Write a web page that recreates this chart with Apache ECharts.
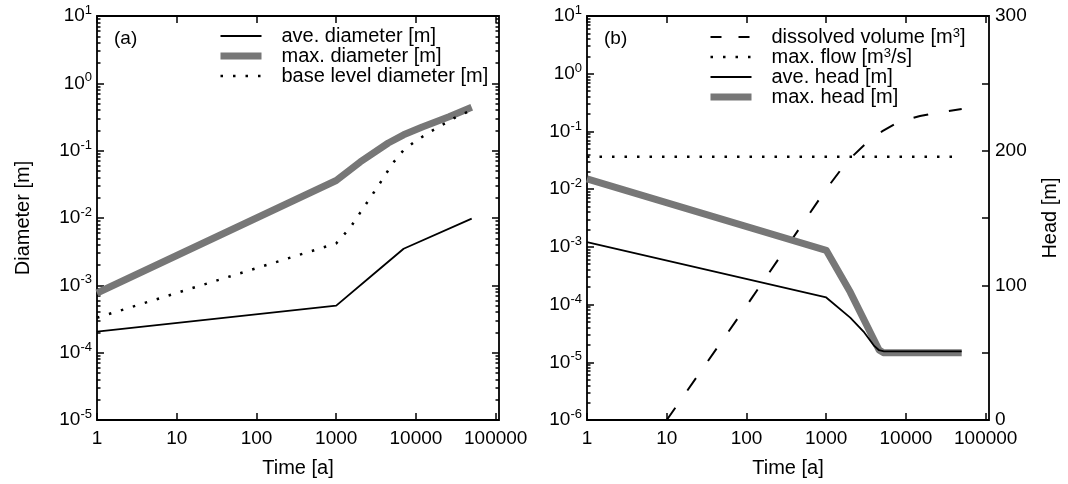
<!DOCTYPE html>
<html><head><meta charset="utf-8">
<script src="https://cdn.jsdelivr.net/npm/echarts@6/dist/echarts.min.js"></script>
<style>html,body{margin:0;padding:0;background:#fff}#c{width:1068px;height:484px}</style>
</head><body><div id="c"></div>
<script>
// ---------- data ----------
// panel (a)
const timeAveDiameter = [1, 1000, 3000, 7000, 50000];
const aveDiameter = [2.05e-4, 5.0e-4, 1.5e-3, 3.5e-3, 9.8e-3];
const timeMaxDiameter = [1, 1000, 2000, 4500, 7000, 12000, 26000, 50000];
const maxDiameter = [7.7e-4, 0.036, 0.068, 0.13, 0.172, 0.225, 0.32, 0.44];
const timeBaseDiameter = [1, 1000, 1500, 2000, 3000, 4000, 5000, 7000, 10000, 15000, 20000, 30000, 50000];
const baseDiameter = [3.3e-4, 4.2e-3, 7.2e-3, 0.012, 0.0245, 0.041, 0.063, 0.102, 0.14, 0.19, 0.23, 0.305, 0.40];
// panel (b)
const timeVolume = [10, 100, 1000, 1500, 2000, 3000, 5000, 8000, 15000, 25000, 50000];
const dissolvedVolume = [1e-6, 9.5e-5, 1.0e-2, 0.021, 0.034, 0.058, 0.10, 0.145, 0.185, 0.212, 0.245];
const timeFlow = [1, 50000];
const maxFlow = [0.0365, 0.0365];
const timeAveHead = [1, 1000, 2000, 3000, 4000, 4600, 5300, 50000];
const aveHead = [132, 91, 76, 65, 55, 51.8, 51, 51];
const timeMaxHead = [1, 1000, 2000, 4600, 5200, 50000];
const maxHead = [179, 126, 95, 52, 50, 50];

// tick labels
const timeTicks = [1, 10, 100, 1000, 10000, 100000];
const diameterDecades = [-5, -4, -3, -2, -1, 0, 1];
const volumeDecades = [-6, -5, -4, -3, -2, -1, 0, 1];
const headTicks = [0, 100, 200, 300];

const names = {
  ave: 'ave. diameter [m]', max: 'max. diameter [m]', base: 'base level diameter [m]',
  vol: 'dissolved volume [m3]', flow: 'max. flow [m3/s]', aveH: 'ave. head [m]', maxH: 'max. head [m]'
};

// ---------- helpers ----------
const FONT = '"Liberation Sans", Arial, Helvetica, sans-serif';
const pairs = (xs, ys) => xs.map((x, i) => [x, ys[i]]);
const decadesToValues = d => d.map(e => Math.pow(10, e));
const minorValues = d => {
  const out = [];
  for (let i = 0; i < d.length - 1; i++) for (let k = 2; k <= 9; k++) out.push(k * Math.pow(10, d[i]));
  return out;
};
const supLabel = v => '{b|10}{e|' + Math.round(Math.log10(v)) + '}';
const supRich = {
  b: { fontSize: 19, lineHeight: 24, fontFamily: FONT, color: '#000' },
  e: { fontSize: 13, lineHeight: 10, verticalAlign: 'top', fontFamily: FONT, color: '#000' }
};
const tickStyle = { color: '#000', width: 1.5 };

function xAxes(grid) {
  return [
    { type: 'log', logBase: 10, gridIndex: grid, position: 'bottom', min: 1, max: 110000,
      axisLine: { show: false }, splitLine: { show: false },
      axisTick: { show: true, inside: true, length: 7, lineStyle: tickStyle, customValues: timeTicks },
      axisLabel: { customValues: timeTicks, fontSize: 19, fontFamily: FONT, color: '#000', margin: 9,
        formatter: v => String(Math.round(v)) },
      name: 'Time [a]', nameLocation: 'middle', nameGap: 38,
      nameTextStyle: { fontSize: 20, fontFamily: FONT, color: '#000' } },
    { type: 'log', logBase: 10, gridIndex: grid, position: 'top', min: 1, max: 110000,
      axisLine: { show: false }, splitLine: { show: false },
      axisTick: { show: true, inside: true, length: 7, lineStyle: tickStyle, customValues: timeTicks },
      axisLabel: { show: false } }
  ];
}
function logY(grid, pos, decades, withLabels, minor, extra) {
  const ax = {
    type: 'log', logBase: 10, gridIndex: grid, position: pos,
    min: Math.pow(10, decades[0]), max: Math.pow(10, decades[decades.length - 1]),
    axisLine: { show: false }, splitLine: { show: false },
    axisTick: { show: true, inside: true, length: minor ? 3.5 : 7, lineStyle: tickStyle,
      customValues: minor ? minorValues(decades) : decadesToValues(decades) },
    axisLabel: withLabels ? { customValues: decadesToValues(decades), formatter: supLabel, rich: supRich, margin: 5 } : { show: false }
  };
  return Object.assign(ax, extra || {});
}

const chart = echarts.init(document.getElementById('c'), null, { renderer: 'canvas' });
const legendText = name => name.replace(/m3/, 'm{s|3}');
const legendRich = { s: { fontSize: 13, lineHeight: 8, verticalAlign: 'top', fontFamily: FONT, color: '#000' } };
const hiddenSymbol = { color: 'rgba(0,0,0,0)', borderWidth: 0, opacity: 0 };

chart.setOption({
  animation: false,
  backgroundColor: '#fff',
  textStyle: { fontFamily: FONT, color: '#000' },
  title: [
    { text: '(a)', left: 114, top: 29, padding: 0, textStyle: { fontSize: 19, fontWeight: 'normal', color: '#000', fontFamily: FONT } },
    { text: '(b)', left: 604, top: 29, padding: 0, textStyle: { fontSize: 19, fontWeight: 'normal', color: '#000', fontFamily: FONT } }
  ],
  grid: [
    { left: 97, top: 16, width: 402, height: 404, show: true, borderColor: '#000', borderWidth: 1.8, outerBoundsMode: 'none' },
    { left: 587, top: 16, width: 402, height: 404, show: true, borderColor: '#000', borderWidth: 1.8, outerBoundsMode: 'none' }
  ],
  xAxis: [...xAxes(0), ...xAxes(1)],
  yAxis: [
    logY(0, 'left', diameterDecades, true, false, { name: 'Diameter [m]', nameLocation: 'middle', nameGap: 64, nameRotate: 90,
      nameTextStyle: { fontSize: 20, fontFamily: FONT, color: '#000' } }),
    logY(0, 'left', diameterDecades, false, true),
    logY(0, 'right', diameterDecades, false, false),
    logY(0, 'right', diameterDecades, false, true),
    logY(1, 'left', volumeDecades, true, false),
    logY(1, 'left', volumeDecades, false, true),
    { type: 'value', gridIndex: 1, position: 'right', min: 0, max: 300, interval: 50,
      axisLine: { show: false }, splitLine: { show: false },
      axisTick: { show: true, inside: true, length: 7, lineStyle: tickStyle },
      axisLabel: { fontSize: 19, fontFamily: FONT, color: '#000', margin: 6,
        formatter: v => (headTicks.indexOf(v) >= 0 ? String(v) : '') },
      name: 'Head [m]', nameLocation: 'middle', nameGap: 51, nameRotate: 90,
      nameTextStyle: { fontSize: 20, fontFamily: FONT, color: '#000' } }
  ],
  legend: [
    { orient: 'vertical', left: 217, top: 26, padding: 0, itemWidth: 41, itemHeight: 14, itemGap: 0,
      selectedMode: false, lineStyle: { width: 'inherit', opacity: 1 }, itemStyle: hiddenSymbol,
      textStyle: { fontSize: 20, lineHeight: 20, fontFamily: FONT, color: '#000', padding: [0, 0, 0, 15] },
      data: [names.ave, names.max, names.base] },
    { orient: 'vertical', left: 707, top: 27, padding: 0, itemWidth: 41, itemHeight: 14, itemGap: 0,
      selectedMode: false, lineStyle: { width: 'inherit', opacity: 1 }, itemStyle: hiddenSymbol,
      formatter: legendText,
      textStyle: { fontSize: 20, lineHeight: 20, fontFamily: FONT, color: '#000', padding: [0, 0, 0, 15], rich: legendRich },
      data: [{ name: names.vol, lineStyle: { type: [11, 17] } }, names.flow, names.aveH, names.maxH] }
  ],
  series: [
    { type: 'line', name: names.ave, xAxisIndex: 0, yAxisIndex: 0, data: pairs(timeAveDiameter, aveDiameter),
      symbol: 'none', itemStyle: { color: '#000' }, lineStyle: { color: '#000', width: 1.8 } },
    { type: 'line', name: names.max, xAxisIndex: 0, yAxisIndex: 0, data: pairs(timeMaxDiameter, maxDiameter),
      symbol: 'none', itemStyle: { color: '#777' }, lineStyle: { color: '#777', width: 7, cap: 'butt', join: 'round' } },
    { type: 'line', name: names.base, xAxisIndex: 0, yAxisIndex: 0, data: pairs(timeBaseDiameter, baseDiameter),
      symbol: 'none', itemStyle: { color: '#000' }, lineStyle: { color: '#000', width: 2.5, type: [2.5, 10], cap: 'butt' } },

    { type: 'line', name: names.vol, xAxisIndex: 2, yAxisIndex: 4, data: pairs(timeVolume, dissolvedVolume),
      symbol: 'none', itemStyle: { color: '#000' }, lineStyle: { color: '#000', width: 2, type: [15, 21], cap: 'butt' } },
    { type: 'line', name: names.flow, xAxisIndex: 2, yAxisIndex: 4, data: pairs(timeFlow, maxFlow),
      symbol: 'none', itemStyle: { color: '#000' }, lineStyle: { color: '#000', width: 2.5, type: [2.5, 10], cap: 'butt' } },
    { type: 'line', name: names.maxH, xAxisIndex: 2, yAxisIndex: 6, data: pairs(timeMaxHead, maxHead),
      symbol: 'none', itemStyle: { color: '#777' }, lineStyle: { color: '#777', width: 7, cap: 'butt', join: 'round' } },
    { type: 'line', name: names.aveH, xAxisIndex: 2, yAxisIndex: 6, data: pairs(timeAveHead, aveHead),
      symbol: 'none', itemStyle: { color: '#000' }, lineStyle: { color: '#000', width: 1.8 } }
  ]
});
</script></body></html>
